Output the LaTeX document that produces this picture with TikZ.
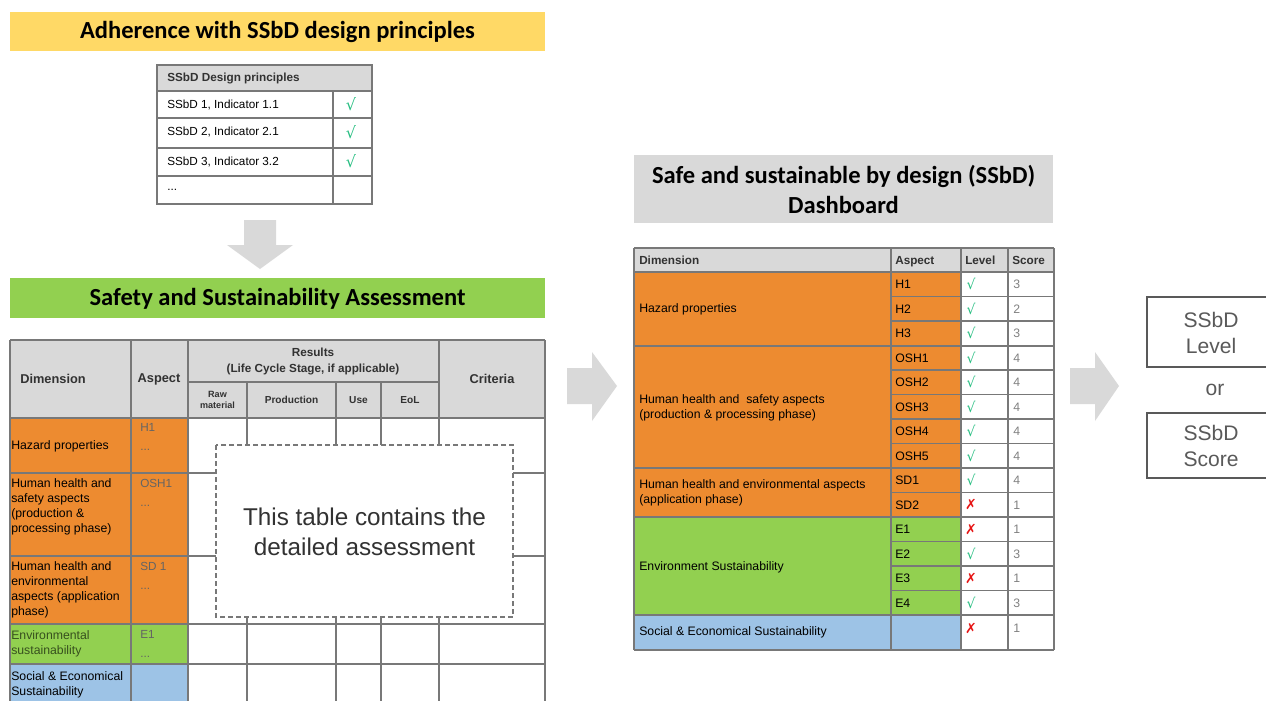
\documentclass[tikz,border=0pt]{standalone}
\usepackage{fontspec}
\setmainfont{Liberation Sans}
\newfontfamily\titlefont{Carlito}
\newfontfamily\symfont{DejaVu Sans}
\definecolor{bannerY}{RGB}{255,217,102}
\definecolor{bannerG}{RGB}{146,208,80}
\definecolor{hdrgray}{RGB}{217,217,217}
\definecolor{arrgray}{RGB}{217,217,217}
\definecolor{gridc}{RGB}{120,120,120}
\definecolor{orangec}{RGB}{237,139,48}
\definecolor{greenc}{RGB}{146,208,80}
\definecolor{bluec}{RGB}{157,195,230}
\definecolor{hdrtext}{RGB}{50,50,50}
\definecolor{asptext}{RGB}{100,100,100}
\definecolor{scoretext}{RGB}{128,128,128}
\definecolor{checkgreen}{RGB}{40,190,130}
\definecolor{crossred}{RGB}{230,20,20}
\definecolor{boxtext}{RGB}{89,89,89}
\definecolor{envtext}{RGB}{55,80,30}
\newcommand\ckm{{\symfont\color{checkgreen}√}}
\newcommand\xmk{{\symfont\bfseries\color{crossred}✗}}
\begin{document}
\begin{tikzpicture}[x=0.75pt,y=-0.75pt,
  grid/.style={draw=gridc,line width=1.1pt},
  titletext/.style={font=\titlefont\bfseries\fontsize{18.4}{22.5}\selectfont,align=center,inner sep=0pt},
  txt/.style={font=\fontsize{8.8}{11}\selectfont,inner sep=0pt,anchor=west},
  hdr/.style={font=\bfseries\fontsize{9.6}{12}\selectfont,text=hdrtext,inner sep=0pt,align=center},
  dhdr/.style={font=\bfseries\fontsize{8.8}{11}\selectfont,text=hdrtext,inner sep=0pt,anchor=base west},
  dimtxt/.style={font=\fontsize{9.2}{11.25}\selectfont,inner sep=0pt,anchor=west,align=left},
  asp/.style={font=\fontsize{8.8}{14}\selectfont,inner sep=0pt,anchor=north west,align=left,text=asptext},
  dtxt/.style={font=\fontsize{9.2}{11.25}\selectfont,inner sep=0pt,anchor=west,align=left},
  rowtxt/.style={font=\fontsize{9.2}{11.25}\selectfont,inner sep=0pt,anchor=base west},
  bigbox/.style={font=\fontsize{15.8}{19.5}\selectfont,text=boxtext,align=center,inner sep=0pt},
  blockarrow/.style={fill=arrgray}]
\useasboundingbox (0,0) rectangle (1266,700);
\clip (0,0) rectangle (1266,700);

% ---------- Banner 1
\fill[bannerY] (10,12) rectangle (545,51);
\node[titletext] (b1) at (277.5,32) {Adherence with SSbD design principles};

% ---------- Design principles table
\fill[hdrgray] (157,65) rectangle (372,91);
\draw[grid] (157,65) rectangle (372,204);
\foreach \yy in {91,118,148,176} \draw[grid] (157,\yy) -- (372,\yy);
\draw[grid] (333,91) -- (333,204);
\node[txt,font=\bfseries\fontsize{8.8}{11}\selectfont,text=hdrtext] (dp0) at (167,78) {SSbD Design principles};
\node[txt] (dp1) at (167,104.5) {SSbD 1, Indicator 1.1};
\node[txt] (dp2) at (167,132) {SSbD 2, Indicator 2.1};
\node[txt] (dp3) at (167,161.5) {SSbD 3, Indicator 3.2};
\node[txt] (dp4) at (167,190) {...};
\node[inner sep=0pt,font=\fontsize{12}{12}\selectfont] (dc1) at (351,104.5) {\ckm};
\node[inner sep=0pt,font=\fontsize{12}{12}\selectfont] (dc2) at (351,132) {\ckm};
\node[inner sep=0pt,font=\fontsize{12}{12}\selectfont] (dc3) at (351,161.5) {\ckm};

% ---------- Down arrow
\fill[blockarrow] (244,220) -- (276,220) -- (276,245) -- (293,245) -- (260,269) -- (227,245) -- (244,245) -- cycle;

% ---------- Banner 2
\fill[bannerG] (10,278) rectangle (545,318);
\node[titletext] (b2) at (277.5,299) {Safety and Sustainability Assessment};

% ---------- Assessment table
\fill[hdrgray] (10,340) rectangle (545,418);
\fill[orangec] (10,418) rectangle (188,624);
\fill[greenc] (10,624) rectangle (188,664);
\fill[bluec] (10,664) rectangle (188,710);
\foreach \yy in {340,418,473,556,624,664} \draw[grid] (10,\yy) -- (545,\yy);
\draw[grid] (188,382) -- (439,382);
\foreach \xx in {10,131,188,439,545} \draw[grid] (\xx,340) -- (\xx,710);
\foreach \xx in {247,336,381} \draw[grid] (\xx,382) -- (\xx,710);

\node[hdr,anchor=west] (hDim) at (20,379) {Dimension};
\node[hdr] (hAsp) at (159,379) {Aspect};
\node[hdr,font=\bfseries\fontsize{8.8}{12}\selectfont] (hRes) at (313,361) {Results\\(Life Cycle Stage, if applicable)};
\node[hdr,font=\bfseries\fontsize{6.8}{8.5}\selectfont] (hRaw) at (217.5,400) {Raw\\material};
\node[hdr,font=\bfseries\fontsize{7.6}{9}\selectfont] (hPro) at (291.5,400) {Production};
\node[hdr,font=\bfseries\fontsize{7.6}{9}\selectfont] (hUse) at (358.5,400) {Use};
\node[hdr,font=\bfseries\fontsize{7.6}{9}\selectfont] (hEoL) at (410,400) {EoL};
\node[hdr] (hCri) at (492,379) {Criteria};

\node[dimtxt] (d1) at (11,446) {Hazard properties};
\node[dimtxt] (d2) at (11,507) {Human health and\\safety aspects\\(production \&\\processing phase)};
\node[dimtxt] (d3) at (11,590) {Human health and\\environmental\\aspects (application\\phase)};
\node[dimtxt,text=envtext] (d4) at (11,644) {Environmental\\sustainability};
\node[dimtxt] (d5) at (11,684.5) {Social \& Economical\\Sustainability};

\node[asp] (a1) at (140,423) {H1\\...};
\node[asp] (a2) at (140,479) {OSH1\\...};
\node[asp] (a3) at (140,562) {SD 1\\...};
\node[asp] (a4) at (140,630) {E1\\...};

\draw[draw=gridc,line width=0.9pt,dash pattern=on 3.5pt off 2.5pt,fill=white] (216,445) rectangle (513,617);
\node[font=\fontsize{18.2}{22.5}\selectfont,text=hdrtext,align=center,inner sep=0pt] (note) at (364.5,532) {This table contains the\\detailed assessment};

% ---------- Arrow 1
\fill[blockarrow] (567,368) -- (592,368) -- (592,352) -- (617,386) -- (592,421) -- (592,404) -- (567,404) -- cycle;

% ---------- Dashboard title
\fill[hdrgray] (634,155) rectangle (1053,223);
\node[titletext] (dt) at (843.5,189.5) {Safe and sustainable by design (SSbD)\\Dashboard};

% ---------- Dashboard table
\fill[hdrgray] (634,248) rectangle (1054,272);
\fill[orangec] (634,272) rectangle (961,517);
\fill[greenc] (634,517) rectangle (961,615);
\fill[bluec] (634,615) rectangle (961,650);
\foreach \i in {1,...,13} \draw[grid] (891,272+24.5*\i) -- (1054,272+24.5*\i);
\foreach \yy in {248,272,346,468,517,615,650} \draw[grid] (634,\yy) -- (1054,\yy);
\foreach \xx in {634,891,961,1008,1054} \draw[grid] (\xx,248) -- (\xx,650);

\node[dhdr] (dhDim) at (639,264) {Dimension};
\node[dhdr] (dhAsp) at (895,264) {Aspect};
\node[dhdr] (dhLvl) at (965,264) {Level};
\node[dhdr] (dhScr) at (1012,264) {Score};

\node[dtxt] (dd1) at (639,309) {Hazard properties};
\node[dtxt] (dd2) at (639,407.5) {Human health and\ \ safety aspects\\(production \& processing phase)};
\node[dtxt] (dd3) at (639,493) {Human health and environmental aspects\\(application phase)};
\node[dtxt] (dd4) at (639,567.5) {Environment Sustainability};
\node[dtxt] (dd5) at (639,632.5) {Social \& Economical Sustainability};

\foreach \a/\l/\s [count=\i from 0] in {H1/\ckm/3,H2/\ckm/2,H3/\ckm/3,OSH1/\ckm/4,OSH2/\ckm/4,OSH3/\ckm/4,OSH4/\ckm/4,OSH5/\ckm/4,SD1/\ckm/4,SD2/\xmk/1,E1/\xmk/1,E2/\ckm/3,E3/\xmk/1,E4/\ckm/3}{
  \node[rowtxt] (asp\i) at (895,288.5+24.5*\i) {\a};
  \node[inner sep=0pt,font=\fontsize{10.5}{10.5}\selectfont] (lvl\i) at (971,284.25+24.5*\i) {\l};
  \node[rowtxt,text=scoretext] (scr\i) at (1013,288.5+24.5*\i) {\s};
}
\node[inner sep=0pt,font=\fontsize{10.5}{10.5}\selectfont] (lvl14) at (971,628) {\xmk};
\node[rowtxt,text=scoretext] (scr14) at (1013,632) {1};

% ---------- Arrow 2
\fill[blockarrow] (1070,368) -- (1095,368) -- (1095,352) -- (1119,386) -- (1095,421) -- (1095,404) -- (1070,404) -- cycle;

% ---------- Result boxes
\draw[draw=boxtext,line width=2.2pt] (1147,297) rectangle (1272,367);
\draw[draw=boxtext,line width=2.2pt] (1147,413) rectangle (1272,478);
\node[bigbox] (lvlbox) at (1211,332.5) {SSbD\\Level};
\node[bigbox] (or) at (1215,390) {or};
\node[bigbox] (scrbox) at (1211,446) {SSbD\\Score};
\end{tikzpicture}
\end{document}
